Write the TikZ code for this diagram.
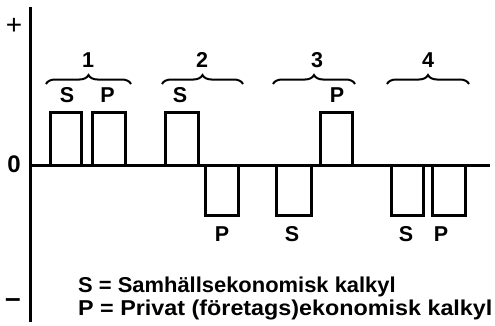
\documentclass[tikz,border=0pt]{standalone}
\usepackage{fontspec}
\setmainfont{Liberation Sans}
\newfontfamily\legA{Liberation Sans}[FakeStretch=1.02]
\newfontfamily\legB{Liberation Sans}[FakeStretch=1.085]
\usetikzlibrary{decorations.pathreplacing}
\begin{document}
\begin{tikzpicture}[x=1pt,y=1pt,
  axis/.style={line width=3pt},
  bar/.style={draw, line width=3pt},
  lab/.style={font=\bfseries\fontsize{21.5}{25}\selectfont, inner sep=0pt},
  sign/.style={font=\fontsize{28}{30}\selectfont, inner sep=0pt},
  leg/.style={font=\bfseries\fontsize{21.5}{25}\selectfont, inner sep=0pt, anchor=base west},
  brc/.style={decorate, decoration={brace, amplitude=9pt}, line width=2pt}]
\useasboundingbox (0,0) rectangle (495,325);
% axes
\coordinate (ytop) at (30,318);
\coordinate (ybot) at (30,3);
\coordinate (xl) at (30,160);
\coordinate (xr) at (490,160);
\draw[axis] (ytop) -- (ybot);
\draw[axis] (xl) -- (xr);
\node[sign] (plus) at (14,299) {+};
\node[lab, font=\bfseries\fontsize{24}{28}\selectfont] (zero) at (14,161) {0};
\node[sign, font=\bfseries\fontsize{28}{30}\selectfont] (minus) at (13,22) {–};
% bars
\draw[bar] (50,160) rectangle (81,213);
\draw[bar] (92,160) rectangle (125,213);
\draw[bar] (165,160) rectangle (198,213);
\draw[bar] (205,160) rectangle (238,110);
\draw[bar] (276,160) rectangle (311,110);
\draw[bar] (320,160) rectangle (352,213);
\draw[bar] (391,160) rectangle (423,110);
\draw[bar] (432,160) rectangle (465,110);
% braces
\coordinate (b1l) at (46,241); \coordinate (b1r) at (131,241);
\coordinate (b2l) at (162,241); \coordinate (b2r) at (243,241);
\coordinate (b3l) at (273,241); \coordinate (b3r) at (355,241);
\coordinate (b4l) at (387,241); \coordinate (b4r) at (469,241);
\draw[brc] (b1l) -- (b1r);
\draw[brc] (b2l) -- (b2r);
\draw[brc] (b3l) -- (b3r);
\draw[brc] (b4l) -- (b4r);
\node[lab] (n1) at (88,265) {1};
\node[lab] (n2) at (202,265) {2};
\node[lab] (n3) at (317,265) {3};
\node[lab] (n4) at (428,265) {4};
% bar labels
\node[lab] (s1) at (67,230) {S};
\node[lab] (p1) at (107.5,230) {P};
\node[lab] (s2) at (180,230) {S};
\node[lab] (p3) at (337,230) {P};
\node[lab] (p2) at (222,91) {P};
\node[lab] (s3) at (292,91) {S};
\node[lab] (s4) at (406,91) {S};
\node[lab] (p4) at (441,91) {P};
% legend
\node[leg] (legS) at (78,33) {\legA S = Samhällsekonomisk kalkyl};
\node[leg] (legP) at (78,10) {\legB P = Privat (företags)ekonomisk kalkyl};
\end{tikzpicture}
\end{document}
